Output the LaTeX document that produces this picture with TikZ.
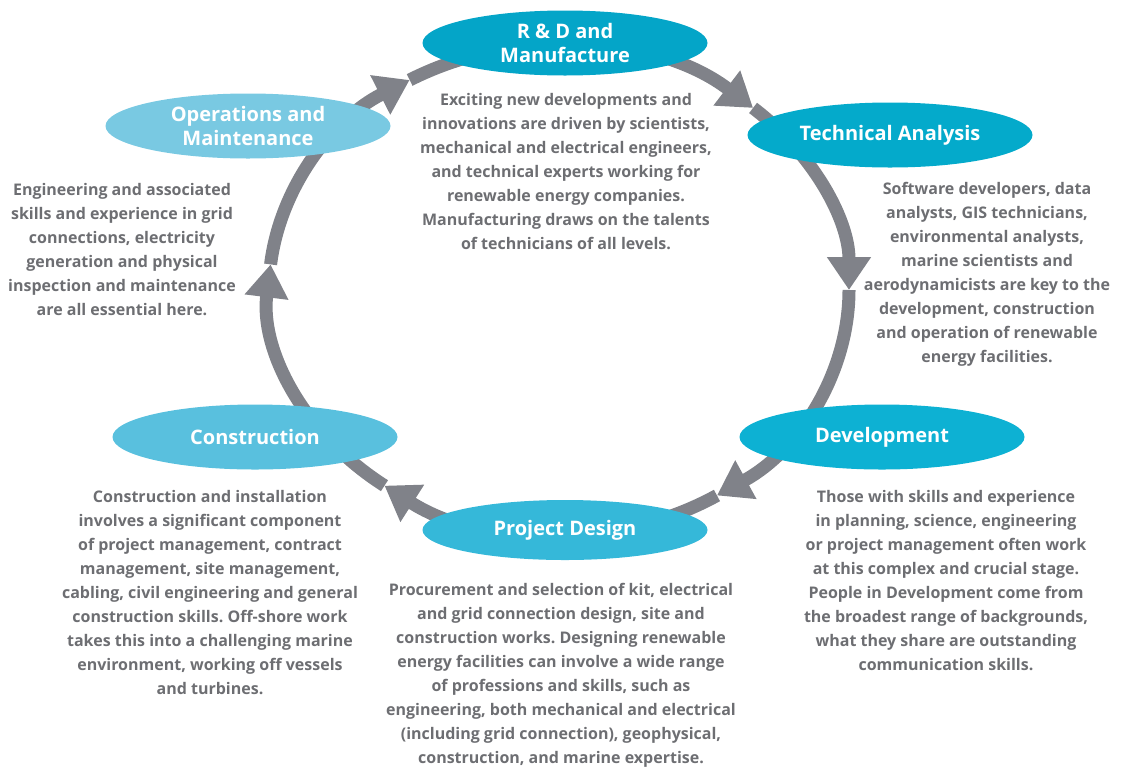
\documentclass[tikz,border=0pt]{standalone}
\usepackage{fontspec}
\setmainfont{Open Sans}
\frenchspacing
\usetikzlibrary{shapes.geometric,arrows.meta}
\definecolor{ringgray}{RGB}{128,130,137}
\definecolor{bodygray}{RGB}{109,110,114}
\definecolor{cRD}{RGB}{4,165,200}
\definecolor{cTA}{RGB}{4,170,203}
\definecolor{cDV}{RGB}{13,177,211}
\definecolor{cPD}{RGB}{53,184,217}
\definecolor{cCO}{RGB}{89,192,222}
\definecolor{cOM}{RGB}{121,201,226}
\begin{document}
\begin{tikzpicture}[x=1pt,y=1pt,
  stage/.style={ellipse, minimum width=285pt, minimum height=65pt, inner sep=0pt,
    text=white, font=\bfseries\fontsize{20}{23.5}\selectfont, align=center},
  body/.style={text=bodygray, font=\bfseries\fontsize{16}{24}\selectfont, align=center, inner sep=0pt},
  ringseg/.style={draw=ringgray, line width=13pt, -{Triangle[width=42pt,length=33pt]}}]
\useasboundingbox (0,0) rectangle (1131,-769);
\coordinate (c) at (559,-290);
\foreach \a/\b in {174/121, 121/48, 48/0, 0/-57, -57/-127, -127/-186}
  \draw[ringseg] (c) ++(\a:290pt and 245pt) arc[start angle=\a, end angle=\b, x radius=290pt, y radius=245pt];

\node[stage, fill=cRD] (rd) at (565,-43) {R \& D and\\Manufacture};
\node[stage, fill=cTA] (ta) at (890,-135) {Technical Analysis};
\node[stage, fill=cDV] (dv) at (882,-437) {Development};
\node[stage, fill=cPD, minimum height=60pt] (pd) at (565,-530) {Project Design};
\node[stage, fill=cCO] (co) at (255,-437) {Construction};
\node[stage, fill=cOM] (om) at (248,-126) {Operations and\\Maintenance};

\node[body] (rdt) at (566,-172) {Exciting new developments and\\innovations are driven by scientists,\\mechanical and electrical engineers,\\and technical experts working for\\renewable energy companies.\\Manufacturing draws on the talents\\of technicians of all levels.};
\node[body] (tat) at (987,-274) {Software developers, data\\analysts, GIS technicians,\\environmental analysts,\\marine scientists and\\aerodynamicists are key to the\\development, construction\\and operation of renewable\\energy facilities.};
\node[body] (dvt) at (946,-581) {Those with skills and experience\\in planning, science, engineering\\or project management often work\\at this complex and crucial stage.\\People in Development come from\\the broadest range of backgrounds,\\what they share are outstanding\\communication skills.};
\node[body] (pdt) at (561,-675) {Procurement and selection of kit, electrical\\and grid connection design, site and\\construction works. Designing renewable\\energy facilities can involve a wide range\\of professions and skills, such as\\engineering, both mechanical and electrical\\(including grid connection), geophysical,\\construction, and marine expertise.};
\node[body] (cot) at (210,-593) {Construction and installation\\involves a significant component\\of project management, contract\\management, site management,\\cabling, civil engineering and general\\construction skills. Off-shore work\\takes this into a challenging marine\\environment, working off vessels\\and turbines.};
\node[body] (omt) at (122,-250) {Engineering and associated\\skills and experience in grid\\connections, electricity\\generation and physical\\inspection and maintenance\\are all essential here.};
\end{tikzpicture}
\end{document}
